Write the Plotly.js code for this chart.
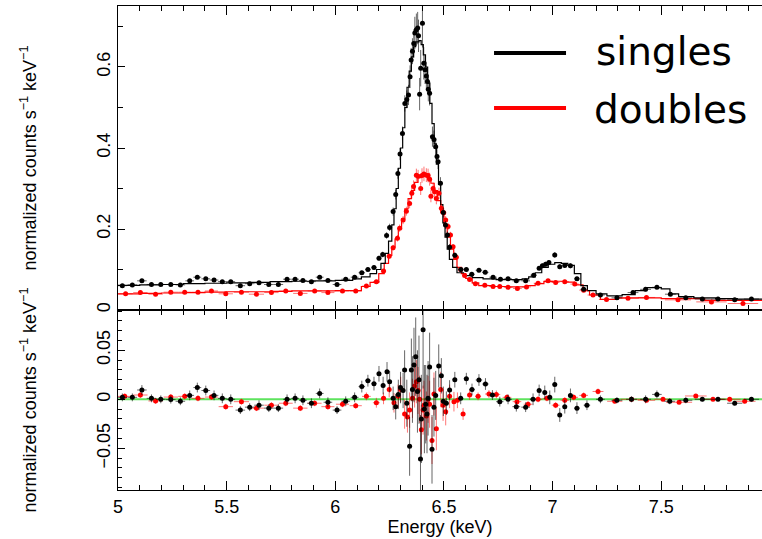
<!DOCTYPE html>
<html>
<head>
<meta charset="utf-8">
<script src="https://cdn.plot.ly/plotly-3.0.1.min.js"></script>
<style>html,body{margin:0;padding:0;overflow:hidden;background:#fff;}</style>
</head>
<body>
<div id="chart" style="width:762px;height:539px;"></div>
<script>
// ---------- singles (black) spectrum ----------
const singlesE = [5.020,5.066,5.110,5.154,5.197,5.243,5.287,5.330,5.365,5.404,5.442,5.480,5.519,5.563,5.606,5.649,5.694,5.738,5.778,5.815,5.851,5.890,5.928,5.966,6.008,6.048,6.089,6.122,6.150,6.178,6.201,6.218,6.236,6.250,6.266,6.278,6.288,6.298,6.309,6.320,6.329,6.337,6.344,6.349,6.355,6.361,6.366,6.373,6.379,6.383,6.388,6.393,6.401,6.407,6.413,6.419,6.424,6.428,6.434,6.447,6.454,6.462,6.468,6.473,6.484,6.497,6.507,6.516,6.526,6.550,6.578,6.603,6.628,6.661,6.690,6.726,6.760,6.795,6.833,6.876,6.913,6.938,6.953,6.968,6.983,7.010,7.033,7.056,7.082,7.112,7.143,7.220,7.296,7.370,7.428,7.480,7.542,7.613,7.689,7.761,7.838,7.915];
const singlesV = [.060,.062,.072,.063,.063,.063,.062,.072,.081,.077,.074,.070,.070,.060,.065,.067,.063,.063,.076,.076,.073,.070,.081,.073,.063,.076,.081,.092,.100,.105,.128,.137,.184,.204,.243,.285,.337,.385,.436,.510,.520,.531,.576,.617,.639,.658,.684,.692,.696,.677,.533,.597,.708,.609,.593,.578,.564,.545,.535,.428,.421,.403,.379,.366,.313,.241,.210,.185,.155,.135,.100,.100,.088,.098,.093,.081,.076,.077,.072,.072,.086,.103,.109,.113,.117,.136,.107,.110,.109,.077,.051,.037,.030,.043,.051,.056,.039,.030,.027,.027,.025,.027];
const singlesXerr = [.022,.022,.022,.022,.022,.022,.022,.020,.018,.020,.020,.020,.020,.022,.022,.022,.022,.022,.018,.018,.018,.020,.018,.020,.020,.020,.018,.015,.013,.012,.010,.008,.007,.006,.006,.005,.005,.004,.004,.004,.004,.004,.003,.003,.003,.003,.003,.003,.003,.003,.003,.003,.003,.003,.003,.003,.003,.003,.003,.004,.004,.004,.004,.004,.005,.005,.006,.006,.007,.010,.012,.012,.013,.015,.015,.017,.017,.018,.018,.020,.015,.010,.008,.008,.008,.010,.010,.010,.010,.013,.015,.020,.025,.025,.025,.022,.025,.030,.035,.035,.035,.035];
const singlesYerr = [.003,.003,.004,.003,.003,.003,.003,.004,.004,.004,.004,.004,.004,.003,.003,.004,.003,.003,.004,.004,.004,.004,.004,.004,.003,.004,.004,.005,.005,.005,.006,.007,.008,.009,.010,.012,.013,.015,.017,.020,.022,.025,.028,.030,.032,.035,.040,.040,.040,.040,.040,.045,.060,.040,.035,.035,.030,.030,.030,.025,.022,.020,.018,.018,.015,.012,.010,.009,.008,.007,.005,.005,.005,.005,.005,.004,.004,.004,.004,.004,.005,.005,.006,.006,.006,.007,.006,.006,.006,.005,.004,.003,.003,.003,.003,.004,.003,.002,.002,.002,.002,.002];

// singles model (step, left bin edges)
const singlesModelE = [5.00,5.10,5.20,5.30,5.40,5.50,5.60,5.70,5.80,5.90,6.00,6.08,6.12,6.16,6.19,6.21,6.23,6.245,6.26,6.27,6.28,6.29,6.30,6.31,6.32,6.33,6.34,6.35,6.36,6.37,6.385,6.395,6.405,6.415,6.425,6.435,6.445,6.455,6.465,6.475,6.485,6.495,6.505,6.515,6.525,6.54,6.56,6.59,6.63,6.68,6.74,6.80,6.86,6.89,6.92,6.95,6.98,7.01,7.04,7.07,7.10,7.13,7.16,7.20,7.25,7.32,7.38,7.43,7.50,7.54,7.58,7.65,7.75,7.85,7.97];
const singlesModelV = [.061,.062,.063,.065,.066,.067,.068,.070,.071,.072,.073,.077,.082,.090,.100,.115,.140,.170,.210,.250,.300,.350,.400,.450,.500,.550,.590,.625,.650,.662,.665,.655,.630,.600,.560,.510,.460,.410,.360,.310,.260,.215,.180,.150,.125,.105,.092,.085,.080,.077,.075,.075,.077,.082,.092,.105,.113,.117,.115,.110,.090,.060,.048,.040,.035,.038,.048,.055,.052,.040,.033,.030,.028,.027,.027];

// ---------- doubles (red) spectrum ----------
const doublesE = [5.035,5.103,5.173,5.243,5.307,5.368,5.430,5.496,5.568,5.637,5.706,5.772,5.839,5.905,5.966,6.033,6.094,6.143,6.189,6.222,6.248,6.266,6.286,6.296,6.312,6.327,6.342,6.352,6.360,6.373,6.381,6.393,6.399,6.408,6.419,6.427,6.434,6.440,6.450,6.457,6.465,6.477,6.488,6.499,6.508,6.519,6.530,6.542,6.557,6.577,6.595,6.618,6.645,6.688,6.726,6.757,6.795,6.838,6.880,6.933,6.979,7.014,7.056,7.102,7.143,7.186,7.248,7.347,7.432,7.577,7.731,7.876];
const doublesV = [.040,.043,.039,.044,.044,.044,.047,.040,.044,.039,.043,.047,.041,.047,.043,.047,.047,.059,.070,.096,.133,.154,.177,.202,.222,.244,.263,.288,.305,.333,.330,.300,.332,.336,.333,.332,.323,.281,.300,.292,.275,.288,.251,.240,.222,.206,.185,.156,.130,.100,.085,.075,.065,.061,.058,.058,.056,.053,.057,.066,.072,.068,.070,.064,.049,.037,.026,.029,.031,.025,.020,.016];
const doublesXerr = [.033,.033,.033,.033,.030,.030,.030,.033,.035,.035,.033,.032,.033,.032,.030,.030,.028,.020,.016,.012,.008,.007,.006,.005,.005,.005,.004,.004,.004,.004,.004,.004,.004,.004,.004,.004,.004,.004,.004,.004,.004,.004,.005,.005,.005,.006,.006,.007,.008,.010,.010,.012,.014,.018,.018,.018,.020,.020,.020,.020,.020,.018,.020,.020,.020,.025,.035,.050,.040,.060,.070,.070];
const doublesYerr = [.002,.002,.002,.002,.002,.002,.002,.002,.002,.002,.002,.002,.002,.002,.002,.002,.002,.003,.004,.005,.006,.007,.008,.009,.010,.011,.012,.013,.015,.016,.016,.016,.018,.018,.017,.017,.016,.015,.015,.015,.014,.014,.012,.011,.010,.009,.008,.007,.006,.005,.004,.004,.003,.003,.003,.003,.003,.003,.003,.003,.003,.003,.003,.003,.003,.002,.002,.002,.002,.002,.002,.002];

// doubles model (step, left bin edges)
const doublesModelE = [5.00,5.10,5.20,5.30,5.40,5.50,5.60,5.70,5.80,5.90,6.00,6.12,6.16,6.20,6.225,6.245,6.26,6.275,6.29,6.305,6.32,6.335,6.35,6.365,6.38,6.395,6.41,6.425,6.44,6.455,6.47,6.485,6.50,6.515,6.53,6.545,6.56,6.58,6.60,6.63,6.66,6.72,6.80,6.88,6.92,6.96,7.00,7.06,7.10,7.14,7.17,7.22,7.30,7.50,7.70,7.97];
const doublesModelV = [.040,.041,.042,.043,.044,.045,.045,.046,.047,.047,.048,.058,.068,.090,.115,.135,.155,.175,.200,.225,.250,.275,.295,.315,.327,.332,.330,.325,.313,.295,.270,.240,.210,.180,.150,.125,.105,.090,.078,.067,.060,.058,.057,.060,.065,.070,.071,.069,.062,.048,.037,.026,.030,.028,.024,.022];

// ---------- residuals ----------
const resSinglesE = [5.020,5.066,5.110,5.154,5.197,5.243,5.287,5.330,5.365,5.404,5.442,5.480,5.519,5.563,5.606,5.649,5.694,5.738,5.778,5.815,5.851,5.890,5.928,5.966,6.008,6.048,6.089,6.122,6.150,6.178,6.201,6.220,6.238,6.250,6.266,6.278,6.290,6.300,6.312,6.319,6.329,6.342,6.350,6.355,6.362,6.370,6.378,6.385,6.392,6.396,6.404,6.410,6.416,6.422,6.427,6.434,6.445,6.454,6.462,6.476,6.488,6.497,6.511,6.526,6.550,6.577,6.603,6.629,6.661,6.691,6.723,6.757,6.795,6.833,6.876,6.910,6.938,6.964,6.987,7.010,7.033,7.056,7.082,7.112,7.158,7.220,7.296,7.363,7.428,7.480,7.539,7.613,7.689,7.761,7.838,7.915];
const resSinglesV = [.002,.002,.0095,.001,0,-.0003,-.002,.004,.012,.009,.004,.001,0,-.011,-.008,-.006,-.009,-.009,0,.001,-.001,-.004,.006,-.003,-.011,-.002,.002,.013,.019,.016,.026,.014,.028,.018,.001,-.0075,.005,.012,.009,.030,-.004,-.048,.030,.010,.035,.0435,.008,.020,-.061,-.020,.071,-.010,-.005,-.015,.001,.033,-.051,-.008,.004,.034,.024,-.002,-.004,.0095,.020,.001,.021,.010,.0197,.0156,.0044,-.0024,0,-.0075,-.008,0,.009,.007,.002,.015,-.016,-.0075,.004,-.009,-.006,0,-.001,0,0,.005,-.002,-.001,0,0,-.004,0];
const resSinglesErr = [.004,.004,.005,.004,.004,.004,.004,.005,.005,.005,.005,.005,.005,.004,.004,.005,.004,.004,.005,.005,.005,.005,.005,.005,.004,.005,.005,.006,.006,.007,.008,.009,.010,.011,.012,.013,.015,.016,.018,.020,.024,.030,.032,.034,.038,.040,.042,.045,.045,.045,.060,.045,.040,.040,.038,.035,.035,.030,.025,.022,.018,.015,.012,.010,.008,.006,.006,.006,.006,.006,.005,.005,.005,.005,.005,.006,.006,.007,.007,.008,.007,.007,.007,.006,.005,.004,.003,.003,.004,.004,.003,.003,.002,.002,.002,.002];
const resSinglesXerr = [.022,.022,.022,.022,.022,.022,.022,.020,.018,.020,.020,.020,.020,.022,.022,.022,.022,.022,.018,.018,.018,.020,.018,.020,.020,.020,.018,.015,.013,.012,.010,.008,.007,.006,.006,.005,.005,.004,.004,.004,.004,.003,.003,.003,.003,.003,.003,.003,.003,.003,.003,.003,.003,.003,.003,.003,.004,.004,.004,.004,.005,.005,.006,.007,.010,.012,.012,.013,.015,.015,.017,.017,.018,.018,.020,.015,.010,.008,.008,.010,.010,.010,.010,.013,.015,.020,.025,.025,.025,.022,.025,.030,.035,.035,.035,.035];

const resDoublesE = [5.031,5.103,5.173,5.243,5.307,5.368,5.430,5.496,5.568,5.637,5.706,5.772,5.839,5.905,5.966,6.033,6.094,6.143,6.189,6.222,6.248,6.270,6.289,6.301,6.319,6.332,6.342,6.355,6.365,6.373,6.381,6.388,6.396,6.404,6.408,6.419,6.427,6.434,6.445,6.454,6.465,6.485,6.496,6.508,6.526,6.546,6.562,6.588,6.618,6.657,6.707,6.741,6.790,6.836,6.887,6.933,6.974,7.014,7.056,7.097,7.143,7.209,7.286,7.363,7.432,7.508,7.582,7.659,7.738,7.815,7.884];
const resDoublesV = [.003,.0044,-.0017,.0023,.003,.001,.0023,-.0075,-.0024,-.009,-.006,-.004,-.009,-.004,-.0075,-.005,-.0065,.003,-.0035,.001,.010,-.0035,.003,.010,-.015,-.018,-.011,.001,.0136,.018,.009,0,-.031,-.011,-.006,-.017,0,-.005,-.042,.0054,-.030,.010,-.006,-.0126,.003,-.0024,-.001,-.015,.0044,.003,.0054,.005,.002,-.0024,-.005,0,.001,-.006,-.001,.002,.004,.008,-.002,0,-.001,0,-.003,.0034,0,0,-.002];
const resDoublesErr = [.003,.003,.003,.003,.003,.003,.003,.003,.003,.003,.003,.003,.003,.003,.003,.003,.003,.004,.005,.006,.008,.010,.012,.013,.015,.016,.018,.020,.022,.022,.024,.024,.025,.025,.025,.025,.024,.024,.024,.022,.022,.018,.016,.014,.012,.010,.008,.006,.005,.004,.004,.004,.003,.003,.003,.003,.003,.003,.003,.003,.003,.003,.002,.002,.002,.002,.002,.002,.002,.002,.002];
const resDoublesXerr = [.033,.033,.033,.033,.030,.030,.030,.033,.035,.035,.033,.032,.033,.032,.030,.030,.028,.020,.016,.012,.008,.007,.006,.005,.005,.005,.004,.004,.004,.004,.004,.004,.004,.004,.004,.004,.004,.004,.004,.004,.004,.005,.005,.005,.006,.007,.008,.010,.012,.014,.018,.018,.020,.020,.020,.020,.020,.018,.020,.020,.020,.025,.035,.050,.040,.040,.060,.050,.050,.050,.050];

const zeroLineE = [5.0, 7.97];
const zeroLineV = [0, 0];

const seriesNames = ['singles', 'doubles'];
const yTitle = 'normalized counts s<sup>\u22121</sup> keV<sup>\u22121</sup>';
const xTitle = 'Energy (keV)';

const BLACK = '#000000', RED = '#ff0000';
const BLACK_ERR = 'rgba(0,0,0,0.6)', RED_ERR = 'rgba(255,0,0,0.55)';

function pts(x, y, xe, ye, color, ecol, xa, ya, name) {
  return {
    type: 'scatter', mode: 'markers', x: x, y: y, name: name,
    xaxis: xa, yaxis: ya, cliponaxis: true,
    marker: {color: color, size: 5},
    error_x: {type: 'data', array: xe, visible: true, color: ecol, thickness: 1, width: 0},
    error_y: {type: 'data', array: ye, visible: true, color: ecol, thickness: 1, width: 0},
    hoverinfo: 'skip'
  };
}
function model(x, y, color, name) {
  return {type: 'scatter', mode: 'lines', x: x, y: y, name: name + ' model',
    xaxis: 'x', yaxis: 'y', line: {color: color, width: 1.2, shape: 'hv'}, hoverinfo: 'skip'};
}

const traces = [
  model(doublesModelE, doublesModelV, RED, seriesNames[1]),
  model(singlesModelE, singlesModelV, BLACK, seriesNames[0]),
  pts(doublesE, doublesV, doublesXerr, doublesYerr, RED, RED_ERR, 'x', 'y', seriesNames[1]),
  pts(singlesE, singlesV, singlesXerr, singlesYerr, BLACK, BLACK_ERR, 'x', 'y', seriesNames[0]),
  {type: 'scatter', mode: 'lines', x: zeroLineE, y: zeroLineV, xaxis: 'x2', yaxis: 'y2',
   line: {color: '#5ee35e', width: 2}, hoverinfo: 'skip'},
  pts(resDoublesE, resDoublesV, resDoublesXerr, resDoublesErr, RED, RED_ERR, 'x2', 'y2', seriesNames[1]),
  pts(resSinglesE, resSinglesV, resSinglesXerr, resSinglesErr, BLACK, BLACK_ERR, 'x2', 'y2', seriesNames[0])
];

const XR = [5, 7.9636];
const tickFont = {family: 'Liberation Sans, Arial, sans-serif', size: 18, color: '#000'};
const xCommon = {
  range: XR, showgrid: false, zeroline: false, showline: true, linecolor: '#000', linewidth: 1,
  mirror: 'ticks', ticks: 'inside', ticklen: 9, tickcolor: '#000', tick0: 5, dtick: 0.5,
  minor: {ticks: 'inside', ticklen: 5, dtick: 0.1, tick0: 5, tickcolor: '#000'},
  tickfont: tickFont
};
const yCommon = {
  showgrid: false, zeroline: false, showline: true, linecolor: '#000', linewidth: 1,
  mirror: false, ticks: 'inside', ticklen: 7, tickcolor: '#000', tickangle: -90,
  tickfont: tickFont
};

const topD = 180 / 484;
const layout = {
  width: 762, height: 539,
  margin: {l: 118, r: 0, t: 6, b: 49},
  paper_bgcolor: '#fff', plot_bgcolor: '#fff', showlegend: false,
  font: {family: 'Liberation Sans, Arial, sans-serif', color: '#000'},
  xaxis: Object.assign({}, xCommon, {anchor: 'y', domain: [0, 1], showticklabels: false}),
  xaxis2: Object.assign({}, xCommon, {anchor: 'y2', domain: [0, 1],
    title: {text: xTitle, font: {size: 18}, standoff: 3}}),
  yaxis: Object.assign({}, yCommon, {domain: [topD, 1], range: [0, 0.7506], tick0: 0, dtick: 0.2,
    minor: {ticks: 'inside', ticklen: 5, dtick: 0.1, tick0: 0, tickcolor: '#000'},
    title: {text: yTitle, font: {size: 18}, standoff: 52}}),
  yaxis2: Object.assign({}, yCommon, {domain: [0, topD], range: [-0.0925, 0.0911], tick0: 0, dtick: 0.05,
    minor: {ticks: 'inside', ticklen: 4, dtick: 0.01, tick0: 0, tickcolor: '#000'},
    title: {text: yTitle, font: {size: 18}, standoff: 52}}),
  shapes: [
    {type: 'line', xref: 'paper', yref: 'paper', x0: 0.5839, x1: 0.6957, y0: 0.9029, y1: 0.9029, line: {color: BLACK, width: 4}},
    {type: 'line', xref: 'paper', yref: 'paper', x0: 0.5839, x1: 0.6957, y0: 0.7893, y1: 0.7893, line: {color: RED, width: 4}}
  ],
  annotations: [
    {xref: 'paper', yref: 'paper', x: 0.7390, y: 0.905, xanchor: 'left', yanchor: 'middle', showarrow: false,
     text: seriesNames[0], font: {family: 'DejaVu Sans, Verdana, sans-serif', size: 39, color: '#000'}},
    {xref: 'paper', yref: 'paper', x: 0.7360, y: 0.787, xanchor: 'left', yanchor: 'middle', showarrow: false,
     text: seriesNames[1], font: {family: 'DejaVu Sans, Verdana, sans-serif', size: 39, color: '#000'}}
  ]
};

Plotly.newPlot('chart', traces, layout, {displayModeBar: false, staticPlot: true});
</script>
</body>
</html>
